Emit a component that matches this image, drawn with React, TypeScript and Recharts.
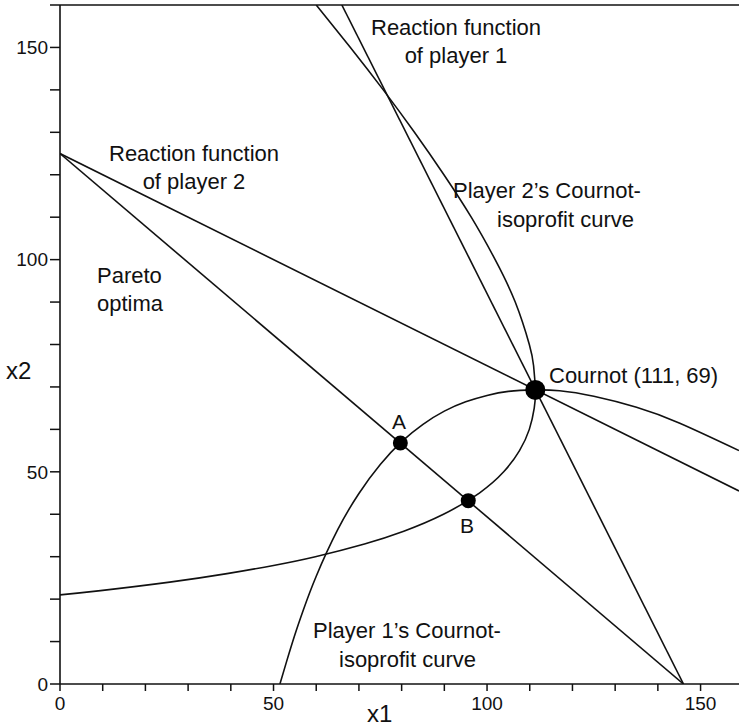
import * as React from 'react';
import { ComposedChart, Line, XAxis, YAxis, ReferenceDot, ReferenceLine } from 'recharts';

const W = 739;
const H = 726;

// axis ticks
const xTicks = [0, 10, 20, 30, 40, 50, 60, 70, 80, 90, 100, 110, 120, 130, 140, 150];
const yTicks = [0, 10, 20, 30, 40, 50, 60, 70, 80, 90, 100, 110, 120, 130, 140, 150, 160];

// straight lines
const reaction1 = [
  { x: 146, y: 0 },
  { x: 66, y: 160 },
];
const reaction2 = [
  { x: 0, y: 125 },
  { x: 159, y: 45.5 },
];
const pareto = [
  { x: 0, y: 125 },
  { x: 146, y: 0 },
];

// player 1's isoprofit through the Cournot point
const iso1 = [
  { x: 51.5, y: 0 }, { x: 53, y: 5.1 }, { x: 55, y: 11.6 }, { x: 57, y: 17.5 },
  { x: 60, y: 25.4 }, { x: 65, y: 36.3 }, { x: 70, y: 44.9 }, { x: 75, y: 51.7 },
  { x: 80, y: 57.1 }, { x: 85, y: 61.2 }, { x: 90, y: 64.3 }, { x: 95, y: 66.5 },
  { x: 100, y: 68.0 }, { x: 105, y: 68.95 }, { x: 111, y: 69.3 }, { x: 117, y: 69.1 },
  { x: 125, y: 67.8 }, { x: 135, y: 65.2 }, { x: 145, y: 61.5 }, { x: 159, y: 55.0 },
];

// player 2's isoprofit through the Cournot point
const iso2 = [
  { x: 0, y: 21.0 }, { x: 9.5, y: 22 }, { x: 25.7, y: 24 }, { x: 39.1, y: 26 },
  { x: 50.3, y: 28 }, { x: 59.8, y: 30 }, { x: 71.3, y: 33 }, { x: 80.5, y: 36 },
  { x: 89.8, y: 40 }, { x: 98.2, y: 45 }, { x: 103.9, y: 50 }, { x: 107.6, y: 55 },
  { x: 109.9, y: 60 }, { x: 111.05, y: 65 }, { x: 111.3, y: 69.3 }, { x: 110.9, y: 75 },
  { x: 109.9, y: 80 }, { x: 106.6, y: 90 }, { x: 101.9, y: 100 }, { x: 96.3, y: 110 },
  { x: 89.9, y: 120 }, { x: 83.0, y: 130 }, { x: 75.7, y: 140 }, { x: 68.0, y: 150 },
  { x: 60.0, y: 160 },
];

const cournot = { x: 111.3, y: 69.3 };
const pointA = { x: 79.7, y: 56.8 };
const pointB = { x: 95.6, y: 43.2 };

const FONT = '"Liberation Sans", Arial, Helvetica, sans-serif';

// free-standing annotations: [text, x, baseline, anchor, size]
const notes: Array<[string, number, number, 'start' | 'middle' | 'end', number]> = [
  ['Reaction function', 456, 35, 'middle', 22],
  ['of player 1', 456, 63, 'middle', 22],
  ['Reaction function', 194, 161, 'middle', 22],
  ['of player 2', 194, 189, 'middle', 22],
  ["Player 2\u2019s Cournot-", 453, 198, 'start', 22],
  ['isoprofit curve', 497, 227, 'start', 22],
  ['Pareto', 97, 283, 'start', 22],
  ['optima', 97, 311, 'start', 22],
  ["Player 1\u2019s Cournot-", 313, 638, 'start', 22],
  ['isoprofit curve', 339, 667, 'start', 22],
  ['x2', 6, 379, 'start', 24],
  ['x1', 367, 722, 'start', 24],
];

const lineProps = {
  dataKey: 'y',
  stroke: '#111',
  strokeWidth: 1.6,
  dot: false,
  activeDot: false,
  isAnimationActive: false,
  legendType: 'none' as const,
};

export default function App() {
  return (
    <div style={{ position: 'relative', width: W, height: H, background: '#fff', fontFamily: FONT }}>
      <style>{'body{margin:0;background:#fff}'}</style>
      <ComposedChart width={W} height={H} margin={{ top: 5, right: 0, bottom: 0, left: 0 }}>
        <XAxis
          type="number"
          dataKey="x"
          domain={[0, 159]}
          allowDataOverflow
          ticks={xTicks}
          tickFormatter={(v: number) => (v % 50 === 0 ? String(v) : '')}
          tickSize={7}
          tickMargin={6}
          height={42}
          axisLine={{ stroke: '#111', strokeWidth: 1.6 }}
          tickLine={{ stroke: '#111', strokeWidth: 1.5 }}
          tick={{ fill: '#111', fontSize: 19, fontFamily: FONT }}
        />
        <YAxis
          type="number"
          dataKey="y"
          domain={[0, 160]}
          allowDataOverflow
          ticks={yTicks}
          tickFormatter={(v: number) => (v % 50 === 0 ? String(v) : '')}
          tickSize={10}
          tickMargin={2}
          width={60}
          axisLine={{ stroke: '#111', strokeWidth: 1.6 }}
          tickLine={{ stroke: '#111', strokeWidth: 1.5 }}
          tick={{ fill: '#111', fontSize: 19, fontFamily: FONT }}
        />
        <ReferenceLine y={160} stroke="#111" strokeWidth={1.6} />
        <Line data={reaction1} {...lineProps} type="linear" />
        <Line data={reaction2} {...lineProps} type="linear" />
        <Line data={pareto} {...lineProps} type="linear" />
        <Line data={iso1} {...lineProps} type="natural" />
        <Line data={iso2} {...lineProps} type="natural" />
        <ReferenceDot x={cournot.x} y={cournot.y} r={10} fill="#000" stroke="none" />
        <ReferenceDot x={pointA.x} y={pointA.y} r={7.5} fill="#000" stroke="none" />
        <ReferenceDot x={pointB.x} y={pointB.y} r={7.5} fill="#000" stroke="none" />
      </ComposedChart>
      <svg
        width={W}
        height={H}
        style={{ position: 'absolute', left: 0, top: 0, pointerEvents: 'none' }}
        fontFamily={FONT}
        fill="#111"
      >
        {notes.map(([t, x, y, a, s], i) => (
          <text key={i} x={x} y={y} textAnchor={a} fontSize={s}>
            {t}
          </text>
        ))}
        <text x={549} y={383} fontSize={22}>Cournot (111, 69)</text>
        <text x={399} y={429} textAnchor="middle" fontSize={21}>A</text>
        <text x={467} y={533} textAnchor="middle" fontSize={21}>B</text>
      </svg>
    </div>
  );
}
